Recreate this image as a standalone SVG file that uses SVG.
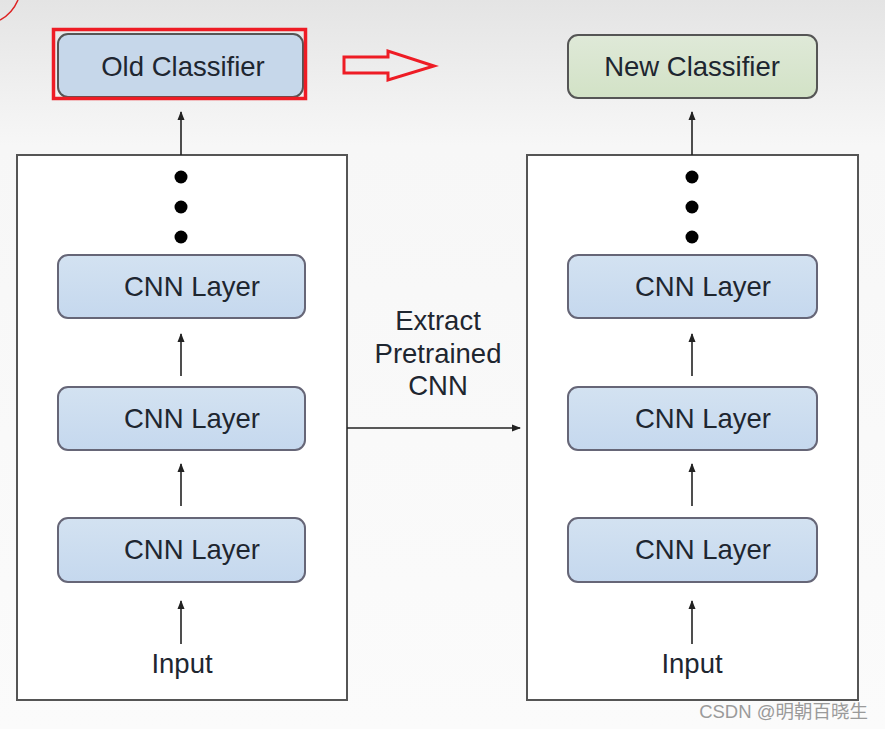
<svg xmlns="http://www.w3.org/2000/svg" width="885" height="729" viewBox="0 0 885 729">
<defs>
<linearGradient id="bg" x1="0" y1="0" x2="0" y2="1">
<stop offset="0" stop-color="#e4e4e4"/>
<stop offset="0.2" stop-color="#f7f7f7"/>
<stop offset="1" stop-color="#fbfbfb"/>
</linearGradient>
<linearGradient id="blue" x1="0" y1="0" x2="0" y2="1">
<stop offset="0" stop-color="#d3e2f1"/>
<stop offset="1" stop-color="#c5d8ee"/>
</linearGradient>
<linearGradient id="green" x1="0" y1="0" x2="0" y2="1">
<stop offset="0" stop-color="#dfe9d8"/>
<stop offset="1" stop-color="#d2e2c6"/>
</linearGradient>
<marker id="ah" markerWidth="10" markerHeight="10" refX="8" refY="5" orient="auto" markerUnits="userSpaceOnUse">
<path d="M0,1.5 L9,5 L0,8.5 Z" fill="#222"/>
</marker>
</defs>
<style>
.t{font-family:"Liberation Sans",Arial,sans-serif;font-size:27.5px;fill:#1e2630;text-anchor:middle}
.frame{fill:#ffffff;stroke:#555;stroke-width:2}
.layer{fill:url(#blue);stroke:#667;stroke-width:2}
.conn{stroke:#222;stroke-width:1.6;fill:none;marker-end:url(#ah)}
.dot{fill:#000}
</style>
<rect width="885" height="729" fill="url(#bg)"/>
<path d="M0,20 Q12,14 18,0" fill="none" stroke="#d22" stroke-width="1.5"/>

<g id="left-frame"><rect class="frame" x="17" y="155" width="330" height="545"/></g>
<g id="right-frame"><rect class="frame" x="527" y="155" width="331" height="545"/></g>

<g id="old-classifier">
<rect x="58" y="34" width="245" height="63" rx="10" fill="#c6d7ea" stroke="#555" stroke-width="2"/>
<rect x="53.5" y="29.5" width="252" height="69" fill="none" stroke="#ee1c25" stroke-width="3.5"/>
<text class="t" x="183" y="76">Old Classifier</text>
</g>
<g id="red-arrow">
<path d="M344,57 L388,57 L388,51 L434,66 L388,80 L388,73 L344,73 Z" fill="none" stroke="#ee1c25" stroke-width="3"/>
</g>
<g id="new-classifier">
<rect x="568" y="35" width="249" height="63" rx="10" fill="url(#green)" stroke="#555" stroke-width="2"/>
<text class="t" x="692" y="76">New Classifier</text>
</g>

<g id="left-dots"><circle class="dot" cx="181" cy="177" r="6.5"/><circle class="dot" cx="181" cy="207" r="6.5"/><circle class="dot" cx="181" cy="237" r="6.5"/></g>
<g id="right-dots"><circle class="dot" cx="692" cy="177" r="6.5"/><circle class="dot" cx="692" cy="207" r="6.5"/><circle class="dot" cx="692" cy="237" r="6.5"/></g>

<g id="l-cnn3"><rect class="layer" x="58" y="255" width="247" height="63" rx="10"/><text class="t" x="192" y="296">CNN Layer</text></g>
<g id="l-cnn2"><rect class="layer" x="58" y="387" width="247" height="63" rx="10"/><text class="t" x="192" y="428">CNN Layer</text></g>
<g id="l-cnn1"><rect class="layer" x="58" y="518" width="247" height="64" rx="10"/><text class="t" x="192" y="559">CNN Layer</text></g>
<g id="l-input"><text class="t" x="182" y="673">Input</text></g>

<g id="r-cnn3"><rect class="layer" x="568" y="255" width="249" height="63" rx="10"/><text class="t" x="703" y="296">CNN Layer</text></g>
<g id="r-cnn2"><rect class="layer" x="568" y="387" width="249" height="63" rx="10"/><text class="t" x="703" y="428">CNN Layer</text></g>
<g id="r-cnn1"><rect class="layer" x="568" y="518" width="249" height="64" rx="10"/><text class="t" x="703" y="559">CNN Layer</text></g>
<g id="r-input"><text class="t" x="692" y="673">Input</text></g>

<g id="extract-label">
<text class="t" x="438" y="330">Extract</text>
<text class="t" x="438" y="363">Pretrained</text>
<text class="t" x="438" y="395">CNN</text>
</g>

<g id="connectors">
<line class="conn" x1="181" y1="155" x2="181" y2="112"/>
<line class="conn" x1="181" y1="376" x2="181" y2="334"/>
<line class="conn" x1="181" y1="506" x2="181" y2="464"/>
<line class="conn" x1="181" y1="644" x2="181" y2="601"/>
<line class="conn" x1="692" y1="155" x2="692" y2="112"/>
<line class="conn" x1="692" y1="376" x2="692" y2="334"/>
<line class="conn" x1="692" y1="506" x2="692" y2="464"/>
<line class="conn" x1="692" y1="644" x2="692" y2="601"/>
<line class="conn" x1="347" y1="428" x2="520" y2="428"/>
</g>

<text x="868" y="718" text-anchor="end" style="font-family:'Liberation Sans','Noto Sans CJK SC',sans-serif;font-size:18.5px;fill:#9a9a9a">CSDN @明朝百晓生</text>
</svg>
